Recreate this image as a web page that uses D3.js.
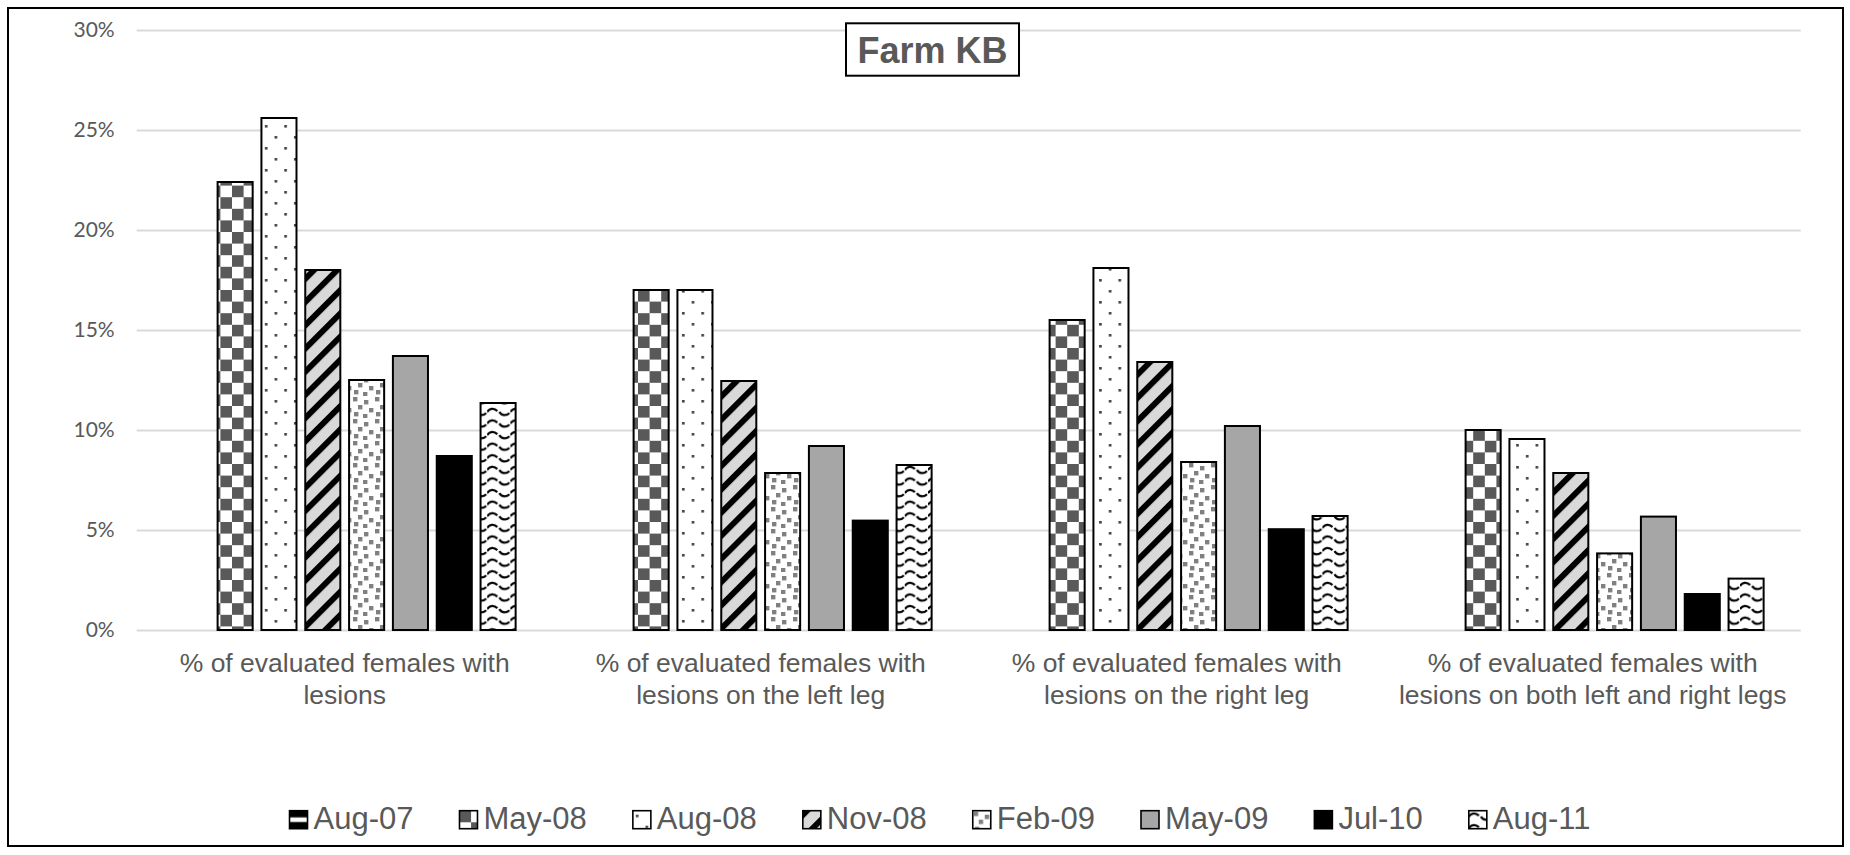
<!DOCTYPE html>
<html>
<head>
<meta charset="utf-8">
<script src="https://cdn.jsdelivr.net/npm/d3@7"></script>
<style>
  html, body { margin: 0; padding: 0; background: #ffffff; }
  svg { display: block; }
</style>
</head>
<body>
<svg id="chart" width="1850" height="855"></svg>
<script>
// ---- data ----
const categories = [
  "% of evaluated females with lesions",
  "% of evaluated females with lesions on the left leg",
  "% of evaluated females with lesions on the right leg",
  "% of evaluated females with lesions on both left and right legs"
];
const seriesNames = ["Aug-07", "May-08", "Aug-08", "Nov-08", "Feb-09", "May-09", "Jul-10", "Aug-11"];
// percentage of evaluated females, one value per category
const aug07 = [null, null, null, null];
const may08 = [22.4, 17.0, 15.5, 10.0];
const aug08 = [25.6, 17.0, 18.1, 9.55];
const nov08 = [18.0, 12.45, 13.4, 7.85];
const feb09 = [12.5, 7.85, 8.4, 3.83];
const may09 = [13.7, 9.2, 10.2, 5.67];
const jul10 = [8.7, 5.47, 5.04, 1.8];
const aug11 = [11.35, 8.25, 5.7, 2.57];
const yTicks = [0, 5, 10, 15, 20, 25, 30];
const chartTitle = "Farm KB";

const seriesValues = [aug07, may08, aug08, nov08, feb09, may09, jul10, aug11];
const table = [];
categories.forEach((c, ci) => {
  seriesNames.forEach((s, si) => {
    const v = seriesValues[si][ci];
    if (v !== null) table.push({ category: c, series: s, value: v });
  });
});

// ---- layout ----
const svg = d3.select("#chart");
const plotLeft = 136.7, plotRight = 1800.7, plotTop = 30, plotBottom = 630;
const textGray = "#595959";

const y = d3.scaleLinear().domain([0, 30]).range([plotBottom, plotTop]);
const x0 = d3.scaleBand().domain(categories).range([plotLeft, plotRight]).padding(0);
const x1 = d3.scaleBand().domain(seriesNames).range([0, x0.bandwidth()])
  .paddingInner(0.2).paddingOuter(0.846);

// ---- fill patterns ----
const defs = svg.append("defs");
const u = 2.9, T = 8 * u;

// Aug-07: dark with a light horizontal band
const p0 = defs.append("pattern").attr("id", "pat-0").attr("patternUnits", "userSpaceOnUse")
  .attr("width", 18).attr("height", 18);
p0.append("rect").attr("width", 18).attr("height", 18).attr("fill", "#000");
p0.append("rect").attr("y", 6.7).attr("width", 18).attr("height", 4.6).attr("fill", "#fff");

// May-08: large checkerboard
const p1 = defs.append("pattern").attr("id", "pat-1").attr("patternUnits", "userSpaceOnUse")
  .attr("width", T).attr("height", T);
p1.append("rect").attr("width", T).attr("height", T).attr("fill", "#fff");
p1.append("rect").attr("width", T / 2).attr("height", T / 2).attr("fill", "#595959");
p1.append("rect").attr("x", T / 2).attr("y", T / 2).attr("width", T / 2).attr("height", T / 2).attr("fill", "#595959");

// Aug-08: sparse staggered dots
const dw = 19.4, dh = 22;
const p2 = defs.append("pattern").attr("id", "pat-2").attr("patternUnits", "userSpaceOnUse")
  .attr("width", dw).attr("height", dh);
p2.append("rect").attr("width", dw).attr("height", dh).attr("fill", "#fff");
p2.append("rect").attr("x", 3).attr("y", 4).attr("width", 2.6).attr("height", 2.6).attr("fill", "#404040");
p2.append("rect").attr("x", 3 + dw / 2).attr("y", 4 + dh / 2).attr("width", 2.6).attr("height", 2.6).attr("fill", "#404040");

// Nov-08: wide upward diagonal stripes
const dP = T / Math.SQRT2;
const p3 = defs.append("pattern").attr("id", "pat-3").attr("patternUnits", "userSpaceOnUse")
  .attr("width", dP).attr("height", dP).attr("patternTransform", "rotate(45)");
p3.append("rect").attr("width", dP).attr("height", dP).attr("fill", "#d9d9d9");
p3.append("rect").attr("width", dP * 0.36).attr("height", dP).attr("fill", "#000");

// Feb-09: small grey confetti
const p4 = defs.append("pattern").attr("id", "pat-4").attr("patternUnits", "userSpaceOnUse")
  .attr("width", 22).attr("height", 22);
p4.append("rect").attr("width", 22).attr("height", 22).attr("fill", "#fff");
[[1, 1], [12, 4], [6, 9], [17, 12], [2, 16], [11, 18]].forEach(([a, b]) => {
  p4.append("rect").attr("x", a).attr("y", b).attr("width", 4.4).attr("height", 4.4).attr("fill", "#808080");
});

// May-09 and Jul-10: solid fills
const p5 = defs.append("pattern").attr("id", "pat-5").attr("patternUnits", "userSpaceOnUse")
  .attr("width", 10).attr("height", 10);
p5.append("rect").attr("width", 10).attr("height", 10).attr("fill", "#a6a6a6");
const p6 = defs.append("pattern").attr("id", "pat-6").attr("patternUnits", "userSpaceOnUse")
  .attr("width", 10).attr("height", 10);
p6.append("rect").attr("width", 10).attr("height", 10).attr("fill", "#000");

// Aug-11: wave
const p7 = defs.append("pattern").attr("id", "pat-7").attr("patternUnits", "userSpaceOnUse")
  .attr("width", T).attr("height", 11.6);
p7.append("rect").attr("width", T).attr("height", 11.6).attr("fill", "#fff");
p7.append("path")
  .attr("d", `M0,6 C2.5,2 7,2 ${T / 2 - 1.5},5 M${T / 2 + 0.5},6 C${T / 2 + 3},10 ${T - 4},10 ${T - 1},7`)
  .attr("fill", "none").attr("stroke", "#000").attr("stroke-width", 2.2);

const fillFor = s => `url(#pat-${seriesNames.indexOf(s)})`;

// ---- outer frame ----
svg.append("rect").attr("x", 8).attr("y", 8).attr("width", 1835).attr("height", 838)
  .attr("fill", "#fff").attr("stroke", "#000").attr("stroke-width", 2);

// ---- y axis with gridlines ----
const yAxis = d3.axisLeft(y).tickValues(yTicks)
  .tickSize(-(plotRight - plotLeft)).tickPadding(22)
  .tickFormat(d => d + "%");
const gy = svg.append("g").attr("transform", `translate(${plotLeft},0)`).call(yAxis);
gy.select(".domain").remove();
gy.selectAll(".tick line").attr("stroke", "#d9d9d9").attr("stroke-width", 2);
gy.selectAll(".tick text").attr("fill", textGray)
  .style("font-family", "Lato, 'Open Sans', sans-serif").style("font-size", "21px");

// ---- bars ----
svg.append("g").selectAll("rect").data(table).join("rect")
  .attr("x", d => x0(d.category) + x1(d.series))
  .attr("y", d => y(d.value))
  .attr("width", x1.bandwidth())
  .attr("height", d => y(0) - y(d.value))
  .attr("fill", d => fillFor(d.series))
  .attr("stroke", "#000").attr("stroke-width", 2);

// ---- category labels ----
const catG = svg.append("g").style("font-family", "'Liberation Sans', Arial, sans-serif")
  .style("font-size", "26.5px").attr("fill", textGray).attr("text-anchor", "middle");
categories.forEach(c => {
  const cut = c.indexOf(" with ") + 5;
  const lines = [c.slice(0, cut), c.slice(cut + 1)];
  const t = catG.append("text").attr("x", x0(c) + x0.bandwidth() / 2);
  lines.forEach((ln, i) => t.append("tspan").attr("x", x0(c) + x0.bandwidth() / 2)
    .attr("y", 671.5 + i * 32).text(ln));
});

// ---- title ----
svg.append("rect").attr("x", 846).attr("y", 23.3).attr("width", 173).attr("height", 52.4)
  .attr("fill", "#fff").attr("stroke", "#000").attr("stroke-width", 2);
svg.append("text").attr("x", 932.5).attr("y", 63).attr("text-anchor", "middle")
  .style("font-family", "'Liberation Sans', Arial, sans-serif").style("font-size", "36px")
  .style("font-weight", "bold").attr("fill", textGray).text(chartTitle);

// ---- legend ----
const legend = svg.append("g");
const items = legend.selectAll("g").data(seriesNames).join("g");
items.append("rect").attr("x", 0).attr("y", 0).attr("width", 18).attr("height", 18)
  .attr("fill", d => fillFor(d)).attr("stroke", "#000").attr("stroke-width", 1.6);
items.append("text").attr("x", 24).attr("y", 18.6)
  .style("font-family", "'Liberation Sans', Arial, sans-serif").style("font-size", "31px")
  .attr("fill", textGray).text(d => d);
let cursor = 0;
const offsets = [];
items.each(function () {
  const w = 24 + d3.select(this).select("text").node().getComputedTextLength();
  offsets.push(cursor);
  cursor += w + 46;
});
const totalW = cursor - 46;
const legendStart = 940 - totalW / 2;
items.attr("transform", (d, i) => `translate(${legendStart + offsets[i]},810.7)`);
</script>
</body>
</html>
